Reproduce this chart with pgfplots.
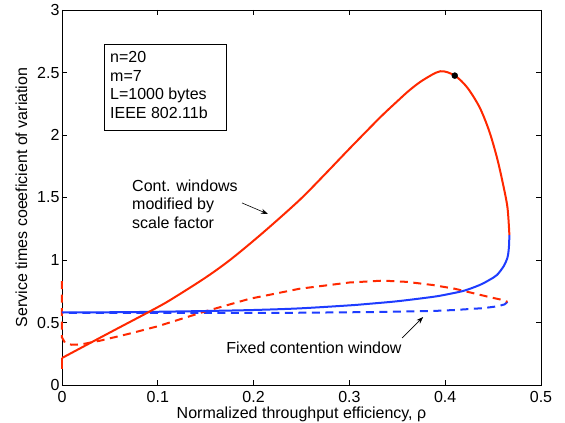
\documentclass[border=0pt]{standalone}
\usepackage{fontspec}
\setmainfont{Liberation Sans}
\usepackage{pgfplots}
\pgfplotsset{compat=1.18}
\usetikzlibrary{arrows.meta}
\definecolor{mred}{RGB}{255,40,0}
\definecolor{mblue}{RGB}{30,60,255}
\begin{document}
\begin{tikzpicture}[font=\fontsize{16}{19}\selectfont]
\path[use as bounding box] (0,0) rectangle (565pt,423pt);
\begin{axis}[
  at={(62pt,38pt)}, anchor=south west,
  scale only axis, width=479pt, height=375pt,
  xmin=0, xmax=0.5, ymin=0, ymax=3,
  xtick={0,0.1,0.2,0.3,0.4,0.5},
  ytick={0,0.5,1,1.5,2,2.5,3},
  tick align=inside, tick pos=both,
  major tick length=5pt,
  /pgf/number format/assume math mode=true,
  xticklabel style={inner ysep=1pt, yshift=-5pt},
  yticklabel style={xshift=1pt},
  xlabel={Normalized throughput efficiency, ρ},
  ylabel={Service times coeeficient of variation},
  xlabel style={at={(axis description cs:0.5,0)}, anchor=base, yshift=-33pt},
  ylabel style={yshift=3pt},
  clip=false,
  axis line style={line width=0.8pt},
  every tick/.style={black, line width=0.6pt},
]
% blue dashed (fixed CW, second branch)
\addplot[mblue, line width=2pt, dash pattern=on 8pt off 5.5pt] coordinates {
(0.465,0.665) (0.462,0.645) (0.455,0.630) (0.44,0.615) (0.41,0.600) (0.387,0.592)
(0.35,0.587) (0.318,0.583) (0.248,0.578) (0.2,0.577) (0.1,0.576) (0.0,0.576)};
% red dashed (fixed CW, first branch)
\addplot[mred, line width=2pt, dash pattern=on 8pt off 5.5pt] coordinates {
(0.0,0.83) (0.0,0.38) (0.003,0.34) (0.01,0.322) (0.02,0.325) (0.04,0.355)
(0.07,0.41) (0.1,0.47) (0.15,0.59) (0.196,0.69) (0.248,0.77) (0.30,0.82)
(0.335,0.835) (0.36,0.825) (0.387,0.80) (0.41,0.77) (0.429,0.735) (0.448,0.70)
(0.46,0.68) (0.465,0.665)};
% blue solid
\addplot[mblue, line width=2pt, smooth] coordinates {
(0.467,1.2) (0.4665,1.1) (0.465,1.02) (0.461,0.95) (0.454,0.88) (0.446,0.84)
(0.436,0.80) (0.42,0.755) (0.402,0.725) (0.387,0.705) (0.35,0.67) (0.318,0.648)
(0.30,0.637) (0.248,0.613) (0.2,0.60) (0.15,0.592) (0.092,0.585) (0.05,0.582) (0.0,0.58)};
% red solid
\addplot[mred, line width=2pt] coordinates {(0.0,0.13) (0.0,0.216)};
\addplot[mred, line width=2pt, smooth] coordinates {
(0.0,0.216) (0.05,0.42) (0.092,0.59) (0.113,0.68)
(0.15,0.86) (0.177,1.01) (0.21,1.22) (0.248,1.48) (0.275,1.69) (0.30,1.89)
(0.332,2.14) (0.35,2.27) (0.363,2.36) (0.377,2.44) (0.395,2.51) (0.41,2.475)
(0.423,2.38) (0.436,2.22) (0.446,2.03) (0.454,1.82) (0.460,1.62) (0.465,1.42)
(0.467,1.2)};
% dot
\addplot[only marks, mark=*, mark size=3pt, black] coordinates {(0.41,2.475)};
% text box
\draw[line width=0.6pt] (axis cs:0.0438,2.04) rectangle (axis cs:0.172,2.728);
\node[anchor=north west, align=left, inner sep=0pt, font=\fontsize{16}{18.7}\selectfont]
  at (axis cs:0.0501,2.672) {n=20\\m=7\\L=1000 bytes\\IEEE 802.11b};
% annotations
\node[anchor=west, align=left, inner sep=0pt, font=\fontsize{16}{18.5}\selectfont]
  at (axis cs:0.0731,1.448) {Cont. windows\\modified by\\scale factor};
\draw[line width=0.6pt, -{Stealth[length=7pt,width=5pt]}] (axis cs:0.188,1.456) -- (axis cs:0.215,1.368);
\node[inner sep=0pt] at (axis cs:0.263,0.296) {Fixed contention window};
\draw[line width=0.6pt, -{Stealth[length=7pt,width=5pt]}] (axis cs:0.355,0.376) -- (axis cs:0.377,0.544);
\end{axis}
\end{tikzpicture}
\end{document}
